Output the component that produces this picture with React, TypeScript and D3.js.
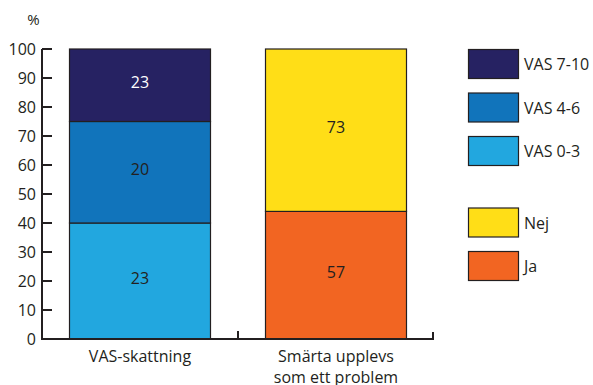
import React from "react";
import * as d3 from "d3";

// Stacked shares (%) per group, bottom to top
const categories = ["VAS-skattning", "Smärta upplevs\nsom ett problem"];
const vasKeys = ["VAS 0-3", "VAS 4-6", "VAS 7-10"];
const vasShares = [40, 35, 25];
const vasCounts = [23, 20, 23];
const problemKeys = ["Ja", "Nej"];
const problemShares = [44, 56];
const problemCounts = [57, 73];
const yTicks = [0, 10, 20, 30, 40, 50, 60, 70, 80, 90, 100];
const legendTop = ["VAS 7-10", "VAS 4-6", "VAS 0-3"];
const legendBottom = ["Nej", "Ja"];

const colors: Record<string, string> = {
  "VAS 7-10": "#262262",
  "VAS 4-6": "#1174bb",
  "VAS 0-3": "#22a7df",
  Nej: "#ffde17",
  Ja: "#f26522",
};
const labelColor: Record<string, string> = {
  "VAS 7-10": "#ffffff",
};

const W = 593;
const H = 385;
const ink = "#231f20";
const font = "'Open Sans', 'Noto Sans', sans-serif";

export default function App() {
  const margin = { left: 42, right: 159, top: 49, bottom: 46 };
  const x = d3
    .scaleBand<string>()
    .domain(categories)
    .range([margin.left, W - margin.right])
    .paddingInner(0)
    .paddingOuter(0);
  const y = d3.scaleLinear().domain([0, 100]).range([H - margin.bottom, margin.top]);
  const barW = 141;

  const groups = [
    { cat: categories[0], keys: vasKeys, shares: vasShares, counts: vasCounts },
    { cat: categories[1], keys: problemKeys, shares: problemShares, counts: problemCounts },
  ];

  const y0 = y(0);
  const xEnd = x.range()[1];

  return (
    <svg
      width={W}
      height={H}
      style={{ position: "absolute", left: 0, top: 0, background: "#fff" }}
      fontFamily={font}
    >
      {/* unit label */}
      <text x={33.5} y={25} textAnchor="middle" fontSize={15} fill={ink}>
        %
      </text>

      {/* bars */}
      {groups.map((g) => {
        const cx = (x(g.cat) as number) + x.bandwidth() / 2;
        const stack = d3.cumsum(g.shares);
        return (
          <g key={g.cat}>
            {g.keys.map((k, i) => {
              const lo = i === 0 ? 0 : stack[i - 1];
              const hi = stack[i];
              const top = y(hi);
              const bot = y(lo);
              return (
                <g key={k}>
                  <rect
                    x={cx - barW / 2}
                    y={top}
                    width={barW}
                    height={bot - top}
                    fill={colors[k]}
                    stroke={ink}
                    strokeWidth={1.2}
                  />
                  <text
                    x={cx}
                    y={(top + bot) / 2 - 3}
                    textAnchor="middle"
                    dominantBaseline="central"
                    fontSize={16}
                    fill={labelColor[k] ?? ink}
                  >
                    {g.counts[i]}
                  </text>
                </g>
              );
            })}
          </g>
        );
      })}

      {/* y axis */}
      <line x1={margin.left} x2={margin.left} y1={y(100)} y2={y0 + 1} stroke={ink} strokeWidth={2} />
      {yTicks.map((t) => (
        <g key={t}>
          <line x1={margin.left} x2={margin.left + 10} y1={y(t)} y2={y(t)} stroke={ink} strokeWidth={2} />
          <text
            x={36}
            y={y(t)}
            textAnchor="end"
            dominantBaseline="central"
            fontSize={16}
            fill={ink}
          >
            {t}
          </text>
        </g>
      ))}

      {/* x axis */}
      <line x1={margin.left} x2={xEnd} y1={y0} y2={y0} stroke={ink} strokeWidth={2} />
      {categories.slice(1).map((c) => (
        <line key={c} x1={x(c)} x2={x(c)} y1={y0} y2={y0 - 8} stroke={ink} strokeWidth={2} />
      ))}
      <line x1={xEnd - 1} x2={xEnd - 1} y1={y0} y2={y0 - 7} stroke={ink} strokeWidth={2} />
      {categories.map((c) => {
        const cx = (x(c) as number) + x.bandwidth() / 2;
        const lines = c.split("\n");
        return (
          <text key={c} x={cx} textAnchor="middle" fontSize={16} fill={ink}>
            {lines.map((ln, i) => (
              <tspan key={i} x={cx} y={362 + i * 21}>
                {ln}
              </tspan>
            ))}
          </text>
        );
      })}

      {/* legend */}
      {[
        { items: legendTop, top: 49.5 },
        { items: legendBottom, top: 208 },
      ].map((blk) =>
        blk.items.map((k, i) => {
          const ty = blk.top + i * 43.5;
          return (
            <g key={k}>
              <rect x={468.5} y={ty} width={50} height={29} fill={colors[k]} stroke={ink} strokeWidth={1.2} />
              <text x={524} y={ty + 14.5} dominantBaseline="central" fontSize={16} fill={ink}>
                {k}
              </text>
            </g>
          );
        })
      )}
    </svg>
  );
}
